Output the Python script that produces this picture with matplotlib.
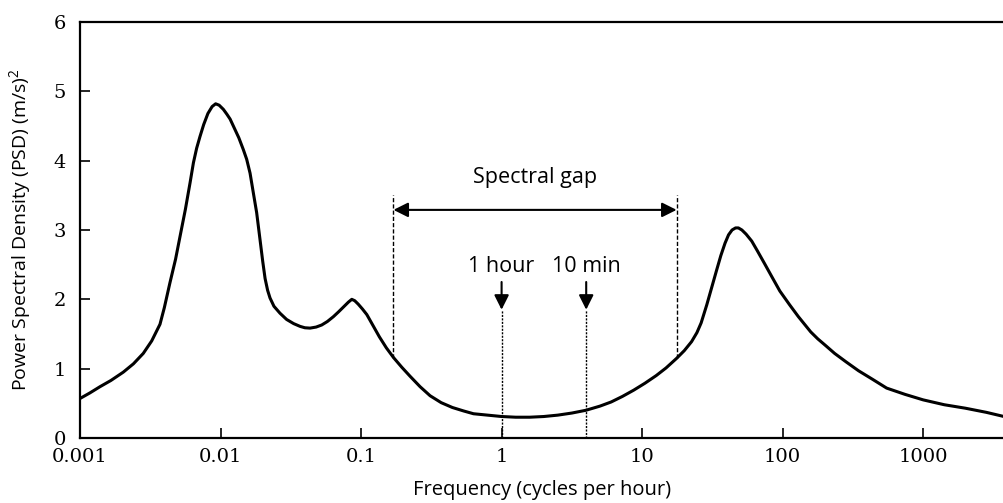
import matplotlib
matplotlib.use("Agg")
import matplotlib.pyplot as plt

# Data: log10 of frequency (cycles per hour) and PSD
log_freq = [-3.000, -2.930, -2.858, -2.780, -2.692, -2.620, -2.550, -2.490, -2.431, -2.400,
            -2.360, -2.320, -2.288, -2.250, -2.217, -2.193, -2.170, -2.146, -2.120, -2.090,
            -2.060, -2.035, -2.010, -1.980, -1.955, -1.932, -1.909, -1.870, -1.838, -1.814,
            -1.790, -1.767, -1.743, -1.719, -1.700, -1.683, -1.665, -1.648, -1.620, -1.577,
            -1.530, -1.480, -1.434, -1.400, -1.363, -1.320, -1.280, -1.240, -1.197, -1.160,
            -1.120, -1.090, -1.066, -1.045, -1.020, -0.990, -0.959, -0.920, -0.870, -0.820,
            -0.769, -0.710, -0.651, -0.580, -0.509, -0.430, -0.350, -0.270, -0.200, -0.100,
            0.000, 0.100, 0.200, 0.300, 0.400, 0.500, 0.600, 0.700, 0.780, 0.860,
            0.940, 1.020, 1.100, 1.170, 1.246, 1.300, 1.352, 1.390, 1.420, 1.460,
            1.495, 1.530, 1.560, 1.590, 1.615, 1.640, 1.665, 1.685, 1.710, 1.740,
            1.780, 1.820, 1.870, 1.922, 1.980, 2.050, 2.112, 2.160, 2.200, 2.250,
            2.302, 2.370, 2.450, 2.540, 2.637, 2.740, 2.870, 3.000, 3.150, 3.300,
            3.450, 3.575]
psd = [0.57, 0.65, 0.74, 0.83, 0.95, 1.07, 1.22, 1.40, 1.64, 1.88,
       2.24, 2.58, 2.91, 3.30, 3.68, 3.97, 4.18, 4.35, 4.52, 4.68,
       4.78, 4.82, 4.80, 4.74, 4.67, 4.60, 4.50, 4.33, 4.16, 4.02,
       3.82, 3.54, 3.25, 2.86, 2.55, 2.30, 2.13, 2.02, 1.90, 1.80,
       1.71, 1.65, 1.61, 1.59, 1.585, 1.60, 1.63, 1.68, 1.75, 1.82,
       1.90, 1.96, 2.00, 1.98, 1.93, 1.86, 1.78, 1.64, 1.46, 1.30,
       1.16, 1.02, 0.89, 0.74, 0.61, 0.51, 0.44, 0.39, 0.35, 0.33,
       0.31, 0.30, 0.30, 0.31, 0.33, 0.36, 0.40, 0.46, 0.52, 0.60,
       0.69, 0.79, 0.90, 1.01, 1.15, 1.26, 1.39, 1.52, 1.66, 1.92,
       2.17, 2.42, 2.63, 2.81, 2.93, 3.00, 3.03, 3.03, 3.00, 2.94,
       2.84, 2.70, 2.52, 2.33, 2.12, 1.92, 1.75, 1.63, 1.53, 1.43,
       1.34, 1.22, 1.10, 0.97, 0.85, 0.72, 0.63, 0.55, 0.48, 0.43,
       0.37, 0.31]
freq = [10 ** v for v in log_freq]

xticks = [0.001, 0.01, 0.1, 1, 10, 100, 1000]
xtick_labels = ["0.001", "0.01", "0.1", "1", "10", "100", "1000"]
yticks = [0, 1, 2, 3, 4, 5, 6]

gap_lo, gap_hi = 0.17, 17.6      # spectral gap edges
gap_lo_psd, gap_hi_psd = 1.16, 1.15
marks = [1.0, 4.0]              # 1 hour, 10 min
mark_labels = ["1 hour", "10 min"]

sans = "Open Sans"
plt.rcParams["mathtext.fontset"] = "custom"
plt.rcParams["mathtext.rm"] = sans

fig = plt.figure(figsize=(10.04, 5.03), dpi=100)
ax = fig.add_axes([0.0797, 0.1292, 0.9203, 0.8271])

ax.plot(freq, psd, color="black", lw=2.2, solid_joinstyle="round",
        solid_capstyle="round", zorder=3)

ax.set_xscale("log")
ax.set_xlim(0.001, 3760)
ax.set_ylim(0, 6)
ax.set_xticks(xticks)
ax.set_xticklabels(xtick_labels)
ax.set_yticks(yticks)
ax.minorticks_off()
ax.tick_params(direction="in", length=7, width=1.2,
               labelsize=14, labelfontfamily="DejaVu Serif")
ax.tick_params(axis="x", pad=7)
ax.tick_params(axis="y", pad=10)

for s in ["left", "top", "bottom"]:
    ax.spines[s].set_linewidth(1.6)
ax.spines["right"].set_visible(False)

ax.set_xlabel("Frequency (cycles per hour)", fontsize=14.5, family=sans, labelpad=10)
ax.set_ylabel(r"Power Spectral Density (PSD) (m/s)$^{\mathrm{2}}$", fontsize=14,
              family=sans, labelpad=14)

# spectral gap edges
ax.plot([gap_lo, gap_lo], [gap_lo_psd, 3.5], color="black", lw=1, ls=(0, (3, 1.5)))
ax.plot([gap_hi, gap_hi], [gap_hi_psd, 3.5], color="black", lw=1, ls=(0, (3, 1.5)))
ax.annotate("", xy=(gap_lo, 3.29), xytext=(gap_hi, 3.29),
            arrowprops=dict(arrowstyle="<|-|>", color="black", lw=1.5,
                            mutation_scale=22, shrinkA=0, shrinkB=0))
ax.text((gap_lo * gap_hi) ** 0.5, 3.76, "Spectral gap", ha="center", va="center",
        fontsize=15.5, family=sans)

for m, lab in zip(marks, mark_labels):
    ax.plot([m, m], [0, 1.85], color="black", lw=1, ls=(0, (1.5, 1)))
    ax.annotate("", xy=(m, 1.85), xytext=(m, 2.25),
                arrowprops=dict(arrowstyle="-|>", color="black", lw=1.5,
                                mutation_scale=22, shrinkA=0, shrinkB=0))
    ax.text(m, 2.47, lab, ha="center", va="center", fontsize=15.5, family=sans)

fig.savefig("out.png", dpi=100)
